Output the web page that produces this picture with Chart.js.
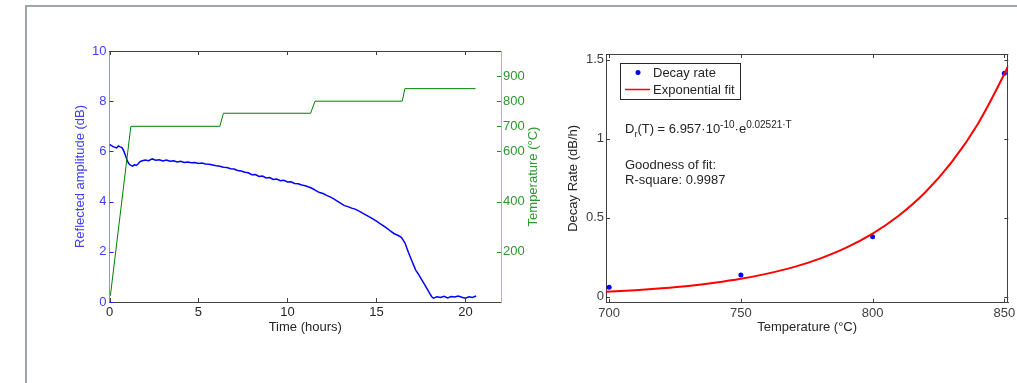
<!DOCTYPE html>
<html>
<head>
<meta charset="utf-8">
<script src="https://cdn.jsdelivr.net/npm/chart.js@4.4.0/dist/chart.umd.min.js"></script>
<style>
  html, body { margin: 0; padding: 0; background: #fff; }
  body { width: 1017px; height: 383px; position: relative; overflow: hidden; }
  #marco { position: absolute; left: 25px; top: 5px; width: 1100px; height: 500px;
           border-left: 2px solid #a0a5aa; border-top: 2px solid #a0a5aa; }
  #izq { position: absolute; left: 30px; top: 0; width: 530px; height: 383px; }
  #der { position: absolute; left: 560px; top: 0; width: 457px; height: 383px; }
</style>
</head>
<body>
<div id="marco"></div>
<canvas id="izq" width="530" height="383"></canvas>
<canvas id="der" width="457" height="383"></canvas>
<script>
// datos grafico izquierdo: amplitud reflejada y temperatura
const horasAmp = [0.0, 0.2, 0.4, 0.5, 0.6, 0.7, 0.8, 0.9, 1.0, 1.1, 1.2, 1.3, 1.4, 1.5, 1.6, 1.7, 1.8,
  2.0, 2.2, 2.4, 2.6, 2.8, 3.0, 3.2, 3.4, 3.6, 3.8, 4.0, 4.2, 4.4, 4.6, 4.8, 5.0, 5.2, 5.4, 5.6, 5.8,
  6.0, 6.2, 6.4, 6.6, 6.8, 7.0, 7.2, 7.4, 7.6, 7.8, 8.0, 8.2, 8.4, 8.6, 8.8, 9.0, 9.2, 9.4, 9.6, 9.8,
  10.0, 10.2, 10.4, 10.6, 10.8, 11.0, 11.2, 11.4, 11.6, 11.8, 12.0, 12.2, 12.4, 12.6, 12.8, 13.0,
  13.2, 13.4, 13.6, 13.8, 14.0, 14.2, 14.4, 14.6, 14.8, 15.0, 15.2, 15.4, 15.6, 15.8, 16.0, 16.2,
  16.4, 16.6, 16.8, 17.0, 17.2, 17.4, 17.6, 17.8, 18.0, 18.1, 18.2, 18.4, 18.6, 18.8, 19.0, 19.2,
  19.4, 19.6, 19.8, 20.0, 20.2, 20.4, 20.6];
const amplitud = [6.28, 6.19, 6.14, 6.22, 6.18, 6.15, 6.02, 5.84, 5.62, 5.50, 5.44, 5.41, 5.47, 5.44, 5.50, 5.58, 5.62,
  5.66, 5.63, 5.70, 5.65, 5.67, 5.62, 5.66, 5.61, 5.63, 5.58, 5.61, 5.56, 5.58, 5.55, 5.56, 5.52, 5.54, 5.50, 5.49, 5.46,
  5.43, 5.41, 5.37, 5.36, 5.31, 5.30, 5.24, 5.22, 5.17, 5.15, 5.07, 5.08, 5.00, 5.02, 4.94, 4.96, 4.88, 4.90, 4.83, 4.85,
  4.78, 4.79, 4.72, 4.71, 4.66, 4.63, 4.58, 4.52, 4.44, 4.36, 4.32, 4.25, 4.19, 4.11, 4.02, 3.93,
  3.84, 3.80, 3.74, 3.70, 3.63, 3.55, 3.47, 3.39, 3.31, 3.22, 3.12, 3.03, 2.93, 2.82, 2.72, 2.66,
  2.58, 2.36, 1.97, 1.62, 1.28, 1.06, 0.82, 0.58, 0.33, 0.22, 0.15, 0.21, 0.18, 0.23, 0.16, 0.22,
  0.20, 0.24, 0.19, 0.15, 0.21, 0.18, 0.24];
const horasTemp = [0.05, 1.2, 6.2, 6.4, 11.3, 11.55, 16.45, 16.6, 20.57];
const temperatura = [25, 700, 700, 752, 752, 800, 800, 850, 850];
const ticksHoras = [0, 5, 10, 15, 20];
const ticksAmp = [0, 2, 4, 6, 8, 10];
const ticksTemp = [200, 400, 600, 700, 800, 900];

// datos grafico derecho: tasa de decaimiento
const tempMedida = [700, 750, 800, 850];
const tasaMedida = [0.06, 0.137, 0.38, 1.414];
const tempAjuste = [698.8, 710, 720, 730, 740, 750, 760, 770, 780, 790, 800, 810, 820, 830, 840, 850, 851.5];
const tasaAjuste = [0.031, 0.041, 0.053, 0.068, 0.088, 0.113, 0.146, 0.187, 0.241, 0.310, 0.399, 0.514, 0.661, 0.851, 1.095, 1.409, 1.462];
const ticksTempDer = [700, 750, 800, 850];
const ticksTasa = [0, 0.5, 1, 1.5];

Chart.defaults.font.family = '"Liberation Sans", Arial, Helvetica, sans-serif';
Chart.defaults.font.size = 13;

const fuente = '13px "Liberation Sans", Arial, sans-serif';
const gris = '#262626';

// marcas hacia dentro y bordes del recuadro (estilo matlab)
const marcoTicks = {
  id: 'marcoTicks',
  afterDraw(chart, args, opts) {
    const ctx = chart.ctx, a = chart.chartArea;
    ctx.save();
    ctx.lineWidth = 1;
    (opts.bordes || []).forEach(b => {
      ctx.strokeStyle = b.color;
      ctx.beginPath();
      if (b.lado === 'top') { ctx.moveTo(a.left, Math.round(a.top) + 0.5); ctx.lineTo(a.right, Math.round(a.top) + 0.5); }
      if (b.lado === 'right') { ctx.moveTo(Math.round(a.right) - 0.5, a.top); ctx.lineTo(Math.round(a.right) - 0.5, a.bottom); }
      ctx.stroke();
    });
    (opts.marcas || []).forEach(m => {
      const s = chart.scales[m.eje];
      ctx.strokeStyle = m.color;
      ctx.beginPath();
      s.ticks.forEach(t => {
        const p = Math.round(s.getPixelForValue(t.value)) + 0.5;
        if (m.lado === 'bottom') { ctx.moveTo(p, a.bottom); ctx.lineTo(p, a.bottom - 4); }
        if (m.lado === 'top') { ctx.moveTo(p, a.top); ctx.lineTo(p, a.top + 4); }
        if (m.lado === 'left') { ctx.moveTo(a.left, p); ctx.lineTo(a.left + 4, p); }
        if (m.lado === 'right') { ctx.moveTo(a.right, p); ctx.lineTo(a.right - 4, p); }
      });
      ctx.stroke();
    });
    ctx.restore();
  }
};

const fijarTicks = lista => s => { s.ticks = lista.map(v => ({ value: v })); };

// titulo del eje derecho (leido de abajo a arriba)
const tituloTemp = {
  id: 'tituloTemp',
  afterDraw(chart) {
    const ctx = chart.ctx, s = chart.scales.y2, a = chart.chartArea;
    ctx.save();
    ctx.translate(s.left + 32, (a.top + a.bottom) / 2);
    ctx.rotate(-Math.PI / 2);
    ctx.font = fuente;
    ctx.fillStyle = '#2f962f';
    ctx.textAlign = 'center';
    ctx.textBaseline = 'middle';
    ctx.fillText('Temperature (°C)', 0, 0);
    ctx.restore();
  }
};

const izq = new Chart(document.getElementById('izq'), {
  type: 'line',
  data: {
    datasets: [
      {
        label: 'Temperature',
        data: horasTemp.map((h, i) => ({ x: h, y: temperatura[i] })),
        yAxisID: 'y2',
        borderColor: '#008000',
        borderWidth: 1,
        pointRadius: 0,
        tension: 0
      },
      {
        label: 'Reflected amplitude',
        data: horasAmp.map((h, i) => ({ x: h, y: amplitud[i] })),
        yAxisID: 'y',
        borderColor: '#0000ff',
        borderWidth: 1.5,
        pointRadius: 0,
        tension: 0
      }
    ]
  },
  options: {
    responsive: false,
    animation: false,
    layout: { padding: { top: 51, left: 0, right: 0, bottom: 0 } },
    plugins: {
      legend: { display: false },
      tooltip: { enabled: false },
      marcoTicks: {
        bordes: [{ lado: 'top', color: '#404040' }],
        marcas: [
          { eje: 'x', lado: 'bottom', color: '#404040' },
          { eje: 'x', lado: 'top', color: '#404040' },
          { eje: 'y', lado: 'left', color: '#2020ff' },
          { eje: 'y2', lado: 'right', color: '#1f8f1f' }
        ]
      }
    },
    scales: {
      x: {
        type: 'linear', min: 0, max: 22,
        grid: { display: false, drawTicks: false },
        border: { color: '#404040' },
        ticks: { color: gris, padding: 3, maxRotation: 0 },
        afterBuildTicks: fijarTicks(ticksHoras),
        afterFit: s => { s.height = 81; s.paddingLeft = 0; s.paddingRight = 0; },
        title: { display: true, text: 'Time (hours)', color: gris, padding: { top: 0, bottom: 48 } }
      },
      y: {
        position: 'left', min: 0, max: 10,
        grid: { display: false, drawTicks: false },
        border: { color: '#8c8cff' },
        ticks: { color: '#4040ff', padding: 3 },
        afterBuildTicks: fijarTicks(ticksAmp),
        afterFit: s => { s.width = 79.5; },
        title: { display: true, text: 'Reflected amplitude (dB)', color: '#4040ff', padding: { top: 43, bottom: 0 } }
      },
      y2: {
        position: 'right', min: 0, max: 1000,
        grid: { display: false, drawTicks: false },
        border: { color: '#8fcf8f' },
        ticks: { color: '#2f962f', padding: 2 },
        afterBuildTicks: fijarTicks(ticksTemp),
        afterFit: s => { s.width = 59; }
      }
    }
  },
  plugins: [marcoTicks, tituloTemp]
});

// leyenda y texto del ajuste dentro del grafico
const leyendaAjuste = {
  id: 'leyendaAjuste',
  afterDraw(chart) {
    const ctx = chart.ctx, a = chart.chartArea;
    const ds = chart.data.datasets;
    const bx = a.left + 14, by = a.top + 9;
    ctx.save();
    ctx.fillStyle = '#fff';
    ctx.fillRect(bx, by, 120, 36);
    ctx.strokeStyle = '#262626';
    ctx.lineWidth = 1;
    ctx.strokeRect(bx + 0.5, by + 0.5, 120, 36);
    ctx.font = fuente;
    ctx.textBaseline = 'middle';
    ctx.fillStyle = ds[0].backgroundColor;
    ctx.beginPath();
    ctx.arc(bx + 18, by + 9.5, 2.5, 0, Math.PI * 2);
    ctx.fill();
    ctx.strokeStyle = ds[1].borderColor;
    ctx.lineWidth = 1.5;
    ctx.beginPath();
    ctx.moveTo(bx + 5, by + 26.5);
    ctx.lineTo(bx + 30, by + 26.5);
    ctx.stroke();
    ctx.fillStyle = gris;
    ctx.fillText(ds[0].label, bx + 33, by + 10);
    ctx.fillText(ds[1].label, bx + 33, by + 27);

    // ecuacion con sub y superindices
    const partes = [
      ['D', 13, 0], ['r', 9, 4], ['(T) = 6.957·10', 13, 0], ['-10', 10, -5],
      ['·e', 13, 0], ['0.02521·T', 10, -5]
    ];
    let x = a.left + 19;
    const y = a.top + 79;
    ctx.textBaseline = 'alphabetic';
    partes.forEach(([t, tam, dy]) => {
      ctx.font = tam + 'px "Liberation Sans", Arial, sans-serif';
      ctx.fillText(t, x, y + dy);
      x += ctx.measureText(t).width;
    });
    ctx.font = fuente;
    ctx.fillText('Goodness of fit:', a.left + 19, a.top + 115);
    ctx.fillText('R-square: 0.9987', a.left + 19, a.top + 130);
    ctx.restore();
  }
};

const der = new Chart(document.getElementById('der'), {
  type: 'line',
  data: {
    datasets: [
      {
        label: 'Decay rate',
        data: tempMedida.map((t, i) => ({ x: t, y: tasaMedida[i] })),
        showLine: false,
        pointRadius: 2.5,
        pointBorderWidth: 0,
        backgroundColor: '#0000ff',
        borderColor: '#0000ff',
        order: 2
      },
      {
        label: 'Exponential fit',
        data: tempAjuste.map((t, i) => ({ x: t, y: tasaAjuste[i] })),
        borderColor: '#ff0000',
        borderWidth: 2,
        pointRadius: 0,
        cubicInterpolationMode: 'monotone',
        order: 1
      }
    ]
  },
  options: {
    responsive: false,
    animation: false,
    layout: { padding: { top: 54, left: 0, right: 8.7, bottom: 0 } },
    plugins: {
      legend: { display: false },
      tooltip: { enabled: false },
      marcoTicks: {
        bordes: [{ lado: 'top', color: '#404040' }, { lado: 'right', color: '#404040' }],
        marcas: [
          { eje: 'x', lado: 'bottom', color: '#404040' },
          { eje: 'x', lado: 'top', color: '#404040' },
          { eje: 'y', lado: 'left', color: '#404040' },
          { eje: 'y', lado: 'right', color: '#404040' }
        ]
      }
    },
    scales: {
      x: {
        type: 'linear', min: 698.8, max: 851.5,
        grid: { display: false, drawTicks: false },
        border: { color: '#404040' },
        ticks: { color: '#404040', padding: 3, maxRotation: 0 },
        afterBuildTicks: fijarTicks(ticksTempDer),
        afterFit: s => { s.height = 80.3; s.paddingLeft = 0; s.paddingRight = 0; },
        title: { display: true, text: 'Temperature (°C)', color: gris, padding: { top: 0, bottom: 47.5 } }
      },
      y: {
        min: -0.038, max: 1.536,
        grid: { display: false, drawTicks: false },
        border: { color: '#404040' },
        ticks: { color: '#404040', padding: 2, callback: v => String(v) },
        afterBuildTicks: fijarTicks(ticksTasa),
        afterFit: s => { s.width = 46; },
        title: { display: true, text: 'Decay Rate (dB/h)', color: gris, padding: { top: 6, bottom: 0 } }
      }
    }
  },
  plugins: [marcoTicks, leyendaAjuste]
});
</script>
</body>
</html>
